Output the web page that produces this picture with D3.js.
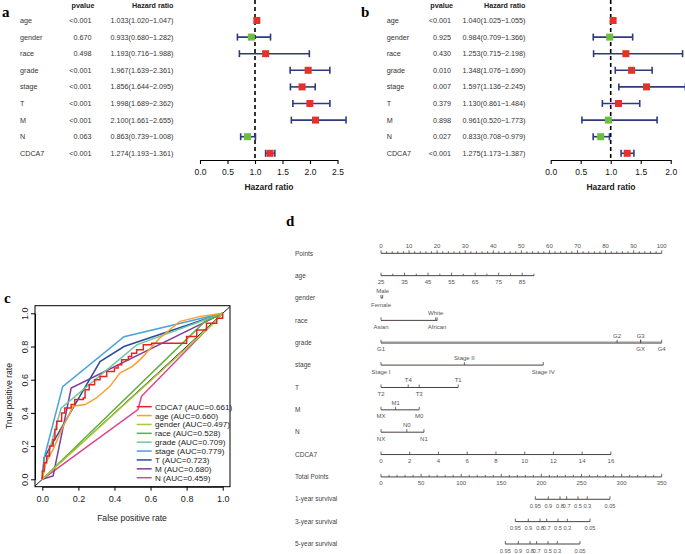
<!DOCTYPE html>
<html><head><meta charset="utf-8">
<script src="https://cdn.jsdelivr.net/npm/d3@7"></script>
<style>
body{margin:0;background:#fff}
svg{display:block;font-family:"Liberation Sans",Arial,sans-serif}
.letter{font-family:"Liberation Serif","Times New Roman",serif;font-weight:bold;font-size:15px}
</style></head><body>
<svg id="fig" width="685" height="554"></svg>
<script>
// ---- panel a / b : forest plots ----
var vars = ["age","gender","race","grade","stage","T","M","N","CDCA7"]
var aP  = ["<0.001","0.670","0.498","<0.001","<0.001","<0.001","<0.001","0.063","<0.001"]
var aHR = [1.033,0.933,1.193,1.967,1.856,1.998,2.100,0.863,1.274]
var aLo = [1.020,0.680,0.716,1.639,1.644,1.689,1.661,0.739,1.193]
var aHi = [1.047,1.282,1.988,2.361,2.095,2.362,2.655,1.008,1.361]
var bP  = ["<0.001","0.925","0.430","0.010","0.007","0.379","0.898","0.027","<0.001"]
var bHR = [1.040,0.984,1.253,1.348,1.597,1.130,0.961,0.833,1.275]
var bLo = [1.025,0.709,0.715,1.076,1.136,0.861,0.520,0.708,1.173]
var bHi = [1.055,1.366,2.198,1.690,2.245,1.484,1.773,0.979,1.387]

// ---- panel c : ROC curves ----
var rocNames = ["CDCA7","age","gender","race","grade","stage","T","M","N"]
var rocAUC = ["0.661","0.660","0.497","0.528","0.709","0.779","0.723","0.680","0.459"]
var rocColors = ["#e8231f","#f7a030","#a9c93a","#5fb03c","#72c79e","#4aa2d6","#2b4b9b","#7b3f9e","#e0428f"]
var rocFpr = [
  [0,0.01,0.024,0.04,0.06,0.07,0.08,0.107,0.125,0.16,0.18,0.227,0.237,0.26,0.29,0.32,0.357,0.40,0.42,0.44,0.477,0.495,0.523,0.56,0.606,0.80,0.856,0.91,0.967,1,1],
  [0,0.02,0.06,0.116,0.172,0.238,0.30,0.375,0.43,0.5,0.55,0.6,0.65,0.76,0.87,1],
  [0,0.94,1],
  [0,0.9,1],
  [0,0.01,0.104,0.523,1],
  [0,0.01,0.113,0.453,1],
  [0,0.01,0.32,0.453,1],
  [0,0.06,0.16,1],
  [0,0.53,0.55,1]
]
var rocTpr = [
  [0,0.05,0.10,0.14,0.20,0.24,0.30,0.35,0.40,0.43,0.45,0.48,0.49,0.54,0.57,0.60,0.62,0.65,0.67,0.69,0.72,0.74,0.76,0.78,0.81,0.82,0.86,0.90,0.94,0.97,1],
  [0,0.1,0.18,0.32,0.44,0.45,0.49,0.56,0.64,0.68,0.73,0.79,0.85,0.95,0.98,1],
  [0,0.93,1],
  [0,0.95,1],
  [0,0.06,0.428,0.81,1],
  [0,0.127,0.558,0.859,1],
  [0,0.13,0.709,0.80,1],
  [0,0.02,0.55,1],
  [0,0.42,0.50,1]
]

// ---- panel d : nomogram ----
var nomoLabels = ["Points","age","gender","race","grade","stage","T","M","N","CDCA7","Total Points","1-year survival","3-year survival","5-year survival"]
var genderLev = ["Male","Female"], genderPts = [0.6,0]
var raceLev = ["Asian","White","African"], racePts = [0,19.5,20]
var gradeLev = ["G1","G2","G3","GX","G4"], gradePts = [0,84.1,92.5,92.5,100]
var stageLev = ["Stage I","Stage II","Stage IV"], stagePts = [0,29.7,57.8]
var tLev = ["T2","T4","T3","T1"], tPts = [0,9.7,13.6,27.5]
var mLev = ["MX","M1","M0"], mPts = [0,5.2,13.6]
var nLev = ["NX","N0","N1"], nPts = [0,9.2,15.3]
var labelsAbove = ["Male","White","G2","G3","Stage II","T4","T1","M1","N0"]
var ageRange = [25,90], agePtsRange = [0,54.5]
var cdcaRange = [0,16], cdcaPtsRange = [0,81.9]
var survProb = ["0.95","0.9","0.8","0.7","0.5","0.3","0.05"]
var surv1Tot = [192.4,208.6,223.2,231.5,245.6,257.2,285.5]
var surv3Tot = [167.5,183.7,198.3,206.6,220.7,232.3,260.6]
var surv5Tot = [155,171.2,185.8,194.1,208.2,219.8,248.1]

var svg = d3.select("#fig")
var navy = "#2d3b7c", red = "#e3322b", green = "#6cbf3c"
var rowY = d3.scaleLinear().domain([0,8]).range([20.5,153.3])

function fmt(v){ return v.toFixed(3) }

function forest(o){
  var g = svg.append("g")
  g.append("text").attr("class","letter").attr("x",o.letterX).attr("y",17).text(o.letter)
  g.append("text").attr("x",o.pHead).attr("y",8).attr("text-anchor","middle")
    .style("font-weight","bold").style("font-size","7.2px").attr("fill","#222").text("pvalue")
  g.append("text").attr("x",o.hrRight).attr("y",8).attr("text-anchor","end")
    .style("font-weight","bold").style("font-size","7.2px").attr("fill","#222").text("Hazard ratio")
  vars.forEach(function(v,i){
    var y = rowY(i)+2.5
    g.append("text").attr("x",o.labX).attr("y",y).style("font-size","7.2px").attr("fill","#333").text(v)
    g.append("text").attr("x",o.pRight).attr("y",y).attr("text-anchor","end").style("font-size","7.2px").attr("fill","#333").text(o.p[i])
    g.append("text").attr("x",o.hrRight).attr("y",y).attr("text-anchor","end").style("font-size","7.2px").attr("fill","#333")
      .text(fmt(o.hr[i])+"("+fmt(o.lo[i])+"\u2212"+fmt(o.hi[i])+")")
  })
  var x = d3.scaleLinear().domain(o.dom).range(o.rng)
  g.append("line").attr("x1",x(1)).attr("x2",x(1)).attr("y1",0).attr("y2",160)
    .attr("stroke","#000").attr("stroke-width",1.6).attr("stroke-dasharray","4,3")
  vars.forEach(function(v,i){
    var y = rowY(i)
    g.append("line").attr("x1",x(o.lo[i])).attr("x2",x(o.hi[i])).attr("y1",y).attr("y2",y).attr("stroke",navy).attr("stroke-width",1.6)
    ;[o.lo[i],o.hi[i]].forEach(function(e){
      g.append("line").attr("x1",x(e)).attr("x2",x(e)).attr("y1",y-3.5).attr("y2",y+3.5).attr("stroke",navy).attr("stroke-width",1.6)
    })
    g.append("rect").attr("x",x(o.hr[i])-3.5).attr("y",y-3.5).attr("width",7).attr("height",7)
      .attr("fill",o.hr[i]<1?green:red)
  })
  var ax = g.append("g").attr("transform","translate(0,160)")
    .call(d3.axisBottom(x).tickValues(o.ticks).tickFormat(d3.format(".1f")).tickSize(4).tickSizeOuter(0))
  ax.select(".domain").attr("stroke","#000").attr("stroke-width",1.1)
  ax.selectAll(".tick line").attr("stroke","#000").attr("stroke-width",1.1)
  ax.selectAll("text").style("font-size","8.5px").attr("fill","#111").attr("dy","0.9em")
  ax.attr("font-family",null)
  g.append("text").attr("x",o.titleX).attr("y",190).attr("text-anchor","middle")
    .style("font-weight","bold").style("font-size","8.5px").attr("fill","#222").text("Hazard ratio")
}

forest({letter:"a",letterX:2,labX:20,pHead:83,pRight:91.5,hrRight:173.5,p:aP,hr:aHR,lo:aLo,hi:aHi,
  dom:[0,2.5],rng:[200,337.5],ticks:[0,0.5,1,1.5,2,2.5],titleX:269})
forest({letter:"b",letterX:361,labX:386.7,pHead:441.7,pRight:451,hrRight:525.5,p:bP,hr:bHR,lo:bLo,hi:bHi,
  dom:[0,2],rng:[550.7,670.7],ticks:[0,0.5,1,1.5,2],titleX:611})

// ---- ROC ----
var gc = svg.append("g")
gc.append("text").attr("class","letter").attr("x",4).attr("y",303).text("c")
var cx = d3.scaleLinear().domain([0,1]).range([42.3,222.7])
var cy = d3.scaleLinear().domain([0,1]).range([479.3,313.3])
gc.append("rect").attr("x",35).attr("y",305.7).attr("width",195).attr("height",181)
  .attr("fill","none").attr("stroke","#000").attr("stroke-width",1)
var xa = gc.append("g").attr("transform","translate(0,486.7)")
  .call(d3.axisBottom(cx).tickValues([0,0.2,0.4,0.6,0.8,1]).tickFormat(d3.format(".1f")).tickSize(4).tickSizeOuter(0))
xa.attr("font-family",null)
xa.selectAll("text").style("font-size","9px").attr("fill","#222").attr("dy","0.95em")
var ya = gc.append("g").attr("transform","translate(35,0)")
  .call(d3.axisLeft(cy).tickValues([0,0.2,0.4,0.6,0.8,1]).tickFormat(d3.format(".1f")).tickSize(4).tickSizeOuter(0))
ya.attr("font-family",null)
ya.selectAll("text").style("font-size","9px").attr("fill","#222")
  .attr("x",0).attr("y",-7).attr("dy",null).attr("text-anchor","middle").attr("transform","rotate(-90)")
gc.selectAll(".domain,.tick line").attr("stroke","#000")
gc.append("text").attr("x",132).attr("y",521).attr("text-anchor","middle").style("font-size","8.6px").attr("fill","#222").text("False positive rate")
gc.append("text").attr("transform","translate(12,396) rotate(-90)").attr("text-anchor","middle").style("font-size","8.6px").attr("fill","#222").text("True positive rate")
gc.append("line").attr("x1",cx(-0.04)).attr("y1",cy(-0.04)).attr("x2",cx(1.04)).attr("y2",cy(1.04)).attr("stroke","#000").attr("stroke-width",0.9)
// draw in reverse so CDCA7 ends on top
for(var k=rocNames.length-1;k>=0;k--){
  var pts = rocFpr[k].map(function(f,j){ return [f,rocTpr[k][j]] })
  var ln = d3.line().x(function(d){return cx(d[0])}).y(function(d){return cy(d[1])})
    .curve(k==0 ? d3.curveStepBefore : d3.curveLinear)
  gc.append("path").attr("d",ln(pts)).attr("fill","none").attr("stroke",rocColors[k]).attr("stroke-width",1.5)
}
var legY = d3.scaleLinear().domain([0,8]).range([406.7,477.7])
rocNames.forEach(function(n,i){
  gc.append("line").attr("x1",136.7).attr("x2",151.7).attr("y1",legY(i)).attr("y2",legY(i)).attr("stroke",rocColors[i]).attr("stroke-width",1.5)
  gc.append("text").attr("x",155).attr("y",legY(i)+3).style("font-size","8.1px").attr("fill","#222").text(n+" (AUC="+rocAUC[i]+")")
})

// ---- nomogram ----
var gd = svg.append("g")
var axCol = "#4d3f3f", txCol = "#555"
var px = d3.scaleLinear().domain([0,100]).range([381,661.7])
var tx = d3.scaleLinear().domain([0,350]).range([381,661.7])
var ny = d3.scaleLinear().domain([0,13]).range([253.3,544])
gd.append("text").attr("class","letter").attr("x",286).attr("y",226).text("d")
nomoLabels.forEach(function(l,i){
  gd.append("text").attr("x",295).attr("y",ny(i)+2.2).style("font-size","6.5px").attr("fill","#444").text(l)
})
function hline(y,x1,x2,col,w){
  gd.append("line").attr("x1",x1).attr("x2",x2).attr("y1",y).attr("y2",y).attr("stroke",col||axCol).attr("stroke-width",w||1)
}
function tick(x,y,h){
  gd.append("line").attr("x1",x).attr("x2",x).attr("y1",y).attr("y2",y-h).attr("stroke",axCol).attr("stroke-width",0.8)
}
function lab(x,y,t,up,fs){
  gd.append("text").attr("x",x).attr("y",up?y-5:y+8.5).attr("text-anchor","middle").style("font-size",(fs||6)+"px").attr("fill",txCol).text(t)
}
// Points
var y0 = ny(0)
hline(y0,px(0),px(100))
d3.range(0,101,2).forEach(function(v){ tick(px(v),y0,v%10==0?3:2) })
d3.range(0,101,10).forEach(function(v){ lab(px(v),y0,v,true) })
// age
var ageX = function(a){ return px(d3.scaleLinear().domain(ageRange).range(agePtsRange)(a)) }
var y1 = ny(1)
hline(y1,ageX(25),ageX(90))
d3.range(25,91,5).forEach(function(v){ tick(ageX(v),y1,(v-25)%10==0?3:2) })
d3.range(25,86,10).forEach(function(v){ lab(ageX(v),y1,v,false) })
// categorical rows
function catRow(i,lev,pts,col,w){
  var y = ny(i)
  hline(y,px(d3.min(pts)),px(d3.max(pts)),col,w)
  lev.forEach(function(l,j){
    tick(px(pts[j]),y,3)
    lab(px(pts[j]),y,l,labelsAbove.indexOf(l)>=0)
  })
}
catRow(2,genderLev,genderPts)
catRow(3,raceLev,racePts)
catRow(4,gradeLev,gradePts,"#9a9696",2.4)
catRow(5,stageLev,stagePts)
catRow(6,tLev,tPts)
catRow(7,mLev,mPts)
catRow(8,nLev,nPts)
// CDCA7
var cdX = function(c){ return px(d3.scaleLinear().domain(cdcaRange).range(cdcaPtsRange)(c)) }
var y9 = ny(9)
hline(y9,cdX(0),cdX(16))
d3.range(0,17,2).forEach(function(v){ tick(cdX(v),y9,3); lab(cdX(v),y9,v,false) })
// Total points
var y10 = ny(10)
hline(y10,tx(0),tx(350))
d3.range(0,351,10).forEach(function(v){ tick(tx(v),y10,v%50==0?3:2) })
d3.range(0,351,50).forEach(function(v){ lab(tx(v),y10,v,false) })
// survival
;[surv1Tot,surv3Tot,surv5Tot].forEach(function(arr,k){
  var y = ny(11+k)
  hline(y,tx(d3.min(arr)),tx(d3.max(arr)))
  arr.forEach(function(t,j){ tick(tx(t),y,3); lab(tx(t),y,survProb[j],false,5.6) })
})
</script></body></html>
